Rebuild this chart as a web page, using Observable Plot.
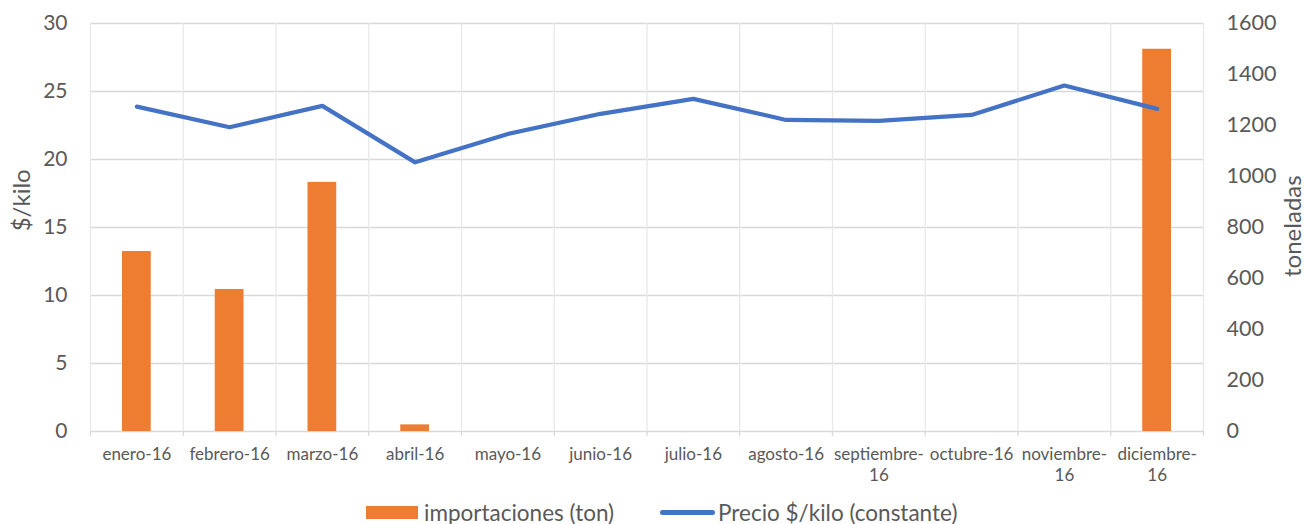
<!DOCTYPE html>
<html>
<head>
<meta charset="utf-8">
<script src="https://cdn.jsdelivr.net/npm/d3@7"></script>
<script src="https://cdn.jsdelivr.net/npm/@observablehq/plot@0.6"></script>
<style>
  html, body { margin: 0; padding: 0; background: #fff; }
  body { width: 1306px; height: 524px; position: relative; font-family: Lato, "Open Sans", sans-serif; overflow: hidden; }
  #legend { position: absolute; left: 0; top: 498px; width: 1306px; height: 26px; font-size: 22.5px; color: #595959; }
  .item { position: absolute; top: 0; display: flex; align-items: center; height: 28px; }
  .sw-bar { width: 52px; height: 13px; background: #ED7D31; margin-right: 6px; }
  .sw-line { width: 55px; height: 5px; border-radius: 3px; background: #4472C4; margin-right: 3px; }
</style>
</head>
<body>
<div id="chart"></div>
<div id="legend">
  <div class="item" style="left:366px"><div class="sw-bar"></div><span>importaciones (ton)</span></div>
  <div class="item" style="left:660px"><div class="sw-line"></div><span>Precio $/kilo (constante)</span></div>
</div>
<script>
const months = ["enero-16","febrero-16","marzo-16","abril-16","mayo-16","junio-16","julio-16","agosto-16","septiembre-16","octubre-16","noviembre-16","diciembre-16"];
const monthLabels = ["enero-16","febrero-16","marzo-16","abril-16","mayo-16","junio-16","julio-16","agosto-16","septiembre-\n16","octubre-16","noviembre-\n16","diciembre-\n16"];
const importaciones = [706, 557, 977, 26, 0, 0, 0, 0, 0, 0, 0, 1499];
const precio = [23.89, 22.37, 23.94, 19.79, 21.88, 23.36, 24.46, 22.91, 22.84, 23.28, 25.44, 23.72];
const leftTicks = [0, 5, 10, 15, 20, 25, 30];
const rightTicks = [0, 200, 400, 600, 800, 1000, 1200, 1400, 1600];

const ratio = 30 / 1600;
const rows = months.map((m, i) => ({m, i, label: monthLabels[i], ton: importaciones[i], precio: precio[i]}));
const bounds = d3.range(0, months.length + 1);
const grey = "#595959";
const gridC = "#d9d9d9";

const chart = Plot.plot({
  width: 1306,
  height: 490,
  marginTop: 23,
  marginBottom: 59,
  marginLeft: 90,
  marginRight: 103,
  style: {fontFamily: "Lato, 'Open Sans', sans-serif", color: grey, background: "#fff"},
  x: {domain: [0, months.length], axis: null},
  y: {domain: [0, 30], axis: null},
  marks: [
    Plot.ruleY(leftTicks, {y: d => d, stroke: gridC, strokeWidth: 1.3}),
    Plot.ruleX(bounds, {x: d => d, y1: 0, y2: 30, stroke: "#e8e8e8", strokeWidth: 1.3}),
    Plot.ruleX(bounds, {x: d => d, y1: 0, y2: -0.37, stroke: gridC, strokeWidth: 1.3}),
    Plot.rectY(rows, {x1: d => d.i + 0.345, x2: d => d.i + 0.655, y1: 0, y2: d => d.ton * ratio, fill: "#ED7D31"}),
    Plot.line(rows, {x: d => d.i + 0.5, y: d => d.precio, stroke: "#4472C4", strokeWidth: 4.2, strokeLinejoin: "round", strokeLinecap: "round"}),
    Plot.text(leftTicks, {y: d => d, text: d => String(d), frameAnchor: "left", textAnchor: "end", dx: -23, fontSize: 21, fill: grey}),
    Plot.text(rightTicks, {y: d => d * ratio, text: d => String(d), frameAnchor: "right", textAnchor: "start", dx: 23, fontSize: 21.5, fill: grey}),
    Plot.text(rows, {x: d => d.i + 0.5, y: 0, text: d => d.label, lineAnchor: "top", dy: 13, lineHeight: 1.25, fontSize: 17, fill: grey}),
    Plot.text([17], {y: d => d, text: () => "$/kilo", frameAnchor: "left", textAnchor: "middle", dx: -68, rotate: -90, fontSize: 24, fill: grey}),
    Plot.text([15.1], {y: d => d, text: () => "toneladas", frameAnchor: "right", textAnchor: "middle", dx: 90, rotate: -90, fontSize: 24, fill: grey})
  ]
});
document.getElementById("chart").appendChild(chart);
</script>
</body>
</html>
